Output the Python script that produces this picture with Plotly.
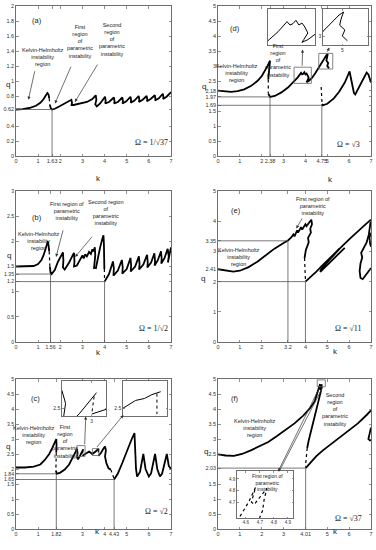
import plotly.graph_objects as go

# ------------------------------------------------------------------ data
# Every curve is a list of (k, q) points.

# (a)  Omega = 1/sqrt(37)
A_KH = [(0, 0.62), (0.3, 0.625), (0.6, 0.64), (0.9, 0.67), (1.1, 0.71), (1.25, 0.76),
        (1.35, 0.81), (1.42, 0.84), (1.47, 0.82), (1.5, 0.77)]
A_DOT = [(1.5, 0.77), (1.53, 0.68)]
A_B2 = [(1.53, 0.68), (1.57, 0.64), (1.63, 0.62), (1.75, 0.63), (1.95, 0.66), (2.2, 0.70),
        (2.4, 0.73), (2.5, 0.75), (2.53, 0.71), (2.51, 0.68), (2.6, 0.68), (2.9, 0.70),
        (3.2, 0.72), (3.45, 0.76), (3.6, 0.81), (3.63, 0.75), (3.58, 0.69), (3.65, 0.66),
        (3.8, 0.70), (3.95, 0.76), (4.02, 0.79), (4.05, 0.74), (4.03, 0.70),
        (4.2, 0.72), (4.35, 0.76), (4.42, 0.78), (4.45, 0.73), (4.43, 0.70),
        (4.6, 0.72), (4.72, 0.76), (4.8, 0.78), (4.83, 0.73), (4.81, 0.70),
        (4.98, 0.73), (5.1, 0.77), (5.17, 0.79), (5.2, 0.74), (5.18, 0.71),
        (5.35, 0.74), (5.47, 0.78), (5.54, 0.80), (5.57, 0.75), (5.55, 0.72),
        (5.72, 0.75), (5.84, 0.78), (5.9, 0.80), (5.93, 0.75), (5.91, 0.73),
        (6.08, 0.76), (6.2, 0.79), (6.27, 0.81), (6.3, 0.76), (6.28, 0.74),
        (6.45, 0.77), (6.56, 0.81), (6.63, 0.83), (6.66, 0.78), (6.64, 0.76),
        (6.8, 0.79), (6.92, 0.83), (7.0, 0.85)]
A_REF = [(1.63, 0.62)]

# (d)  Omega = sqrt(3)
D_KH = [(0, 2.18), (0.3, 2.16), (0.6, 2.14), (0.9, 2.16), (1.2, 2.22), (1.5, 2.33),
        (1.8, 2.5), (2.0, 2.66), (2.15, 2.84), (2.28, 3.02), (2.38, 3.18), (2.36, 2.95),
        (2.32, 2.7), (2.3, 2.55)]
D_DOT1 = [(2.3, 2.55), (2.3, 2.08)]
D_B2 = [(2.3, 2.08), (2.38, 1.97), (2.6, 2.0), (2.9, 2.12), (3.2, 2.28), (3.5, 2.5),
        (3.65, 2.62), (3.8, 2.77), (3.85, 2.72), (3.9, 2.74), (3.95, 2.79), (4.0, 2.72),
        (4.05, 2.75), (4.1, 2.69), (4.15, 2.6), (4.08, 2.5), (4.05, 2.46), (4.15, 2.5),
        (4.3, 2.6), (4.45, 2.76), (4.6, 2.95), (4.72, 3.1), (4.85, 3.25), (4.95, 3.35),
        (5.02, 3.4), (4.98, 3.28), (4.96, 3.18), (5.04, 3.1), (5.0, 3.0), (5.08, 2.92)]
D_DOT2 = [(4.72, 2.3), (4.76, 1.74)]
D_B3 = [(4.76, 1.74), (4.79, 1.69), (5.0, 1.74), (5.3, 1.92), (5.55, 2.15), (5.8, 2.45),
        (5.95, 2.7), (6.02, 2.82), (6.08, 2.6), (6.15, 2.3), (6.22, 2.1), (6.28, 2.05),
        (6.45, 2.3), (6.65, 2.6), (6.8, 2.78), (6.88, 2.72), (6.95, 2.55), (7.0, 2.45)]
D_REF = [(2.38, 1.97), (4.75, 1.69)]

# (b)  Omega = 1/sqrt(2)
B_KH = [(0, 1.5), (0.4, 1.5), (0.8, 1.51), (1.0, 1.55), (1.15, 1.63), (1.25, 1.73),
        (1.33, 1.85), (1.4, 1.97), (1.44, 2.0), (1.47, 1.92), (1.5, 1.8)]
B_DOT1 = [(1.5, 1.8), (1.53, 1.5)]
B_B2 = [(1.53, 1.5), (1.56, 1.38), (1.61, 1.35), (1.75, 1.43), (1.9, 1.6), (2.05, 1.74),
        (2.12, 1.78), (2.14, 1.62), (2.12, 1.48), (2.2, 1.44), (2.4, 1.58), (2.58, 1.74),
        (2.62, 1.77), (2.64, 1.6), (2.62, 1.5), (2.75, 1.52), (2.92, 1.65), (3.0, 1.72),
        (3.06, 1.66), (3.12, 1.74), (3.2, 1.7), (3.3, 1.79), (3.38, 1.75), (3.45, 1.84),
        (3.5, 1.8), (3.56, 1.88), (3.58, 1.72), (3.54, 1.55), (3.52, 1.45)]
B_SPIKE = [(3.6, 1.45), (3.7, 1.68), (3.8, 1.88), (3.9, 2.05), (3.95, 2.12), (3.97, 1.95),
           (3.98, 1.7), (3.99, 1.45)]
B_DOT2 = [(3.99, 1.45), (4.0, 1.22)]
B_B3 = [(4.0, 1.2), (4.2, 1.35), (4.38, 1.6), (4.42, 1.46), (4.4, 1.32), (4.6, 1.42),
        (4.78, 1.63), (4.82, 1.48), (4.8, 1.36), (5.0, 1.45), (5.17, 1.67), (5.2, 1.52),
        (5.18, 1.4), (5.38, 1.5), (5.55, 1.7), (5.58, 1.55), (5.56, 1.44), (5.75, 1.54),
        (5.92, 1.73), (5.95, 1.58), (5.93, 1.48), (6.1, 1.58), (6.25, 1.76), (6.28, 1.6),
        (6.26, 1.52), (6.4, 1.62), (6.55, 1.8), (6.58, 1.64), (6.56, 1.56), (6.7, 1.66),
        (6.85, 1.85), (6.9, 1.7), (6.86, 1.58), (6.95, 1.75), (7.0, 1.88)]
B_REF = [(1.56, 1.35), (4.0, 1.2)]

# (e)  Omega = sqrt(11)
E_KH = [(0, 2.41), (0.3, 2.37), (0.7, 2.33), (1.0, 2.36), (1.4, 2.48), (1.8, 2.66),
        (2.2, 2.88), (2.6, 3.1), (3.0, 3.28), (3.2, 3.36), (3.35, 3.46), (3.45, 3.56),
        (3.5, 3.5), (3.55, 3.6), (3.62, 3.7), (3.66, 3.62), (3.72, 3.68), (3.8, 3.8),
        (3.85, 3.72), (3.92, 3.8), (4.0, 3.9), (4.05, 3.84), (4.15, 3.95), (4.27, 4.05),
        (4.3, 3.9), (4.22, 3.75), (4.25, 3.62), (4.12, 3.45), (4.15, 3.3), (4.02, 3.05),
        (3.96, 2.78)]
E_DOT = [(3.96, 2.78), (4.0, 2.05)]
E_B3 = [(4.0, 2.0), (4.2, 2.12), (4.5, 2.33), (4.8, 2.55), (5.2, 2.85), (5.6, 3.12),
        (6.0, 3.4), (6.4, 3.68), (6.8, 3.93), (7.0, 4.05)]
E_S1 = [(5.8, 3.12), (5.3, 2.76), (4.85, 2.44), (4.68, 2.32), (4.72, 2.42), (5.1, 2.72),
        (5.55, 3.08)]
E_S2 = [(7.0, 2.45), (6.8, 2.25), (6.62, 2.08), (6.52, 2.12), (6.48, 2.35), (6.52, 2.6),
        (6.6, 2.8), (6.55, 2.95), (6.65, 3.08), (6.8, 3.3), (6.9, 3.55), (6.95, 3.8),
        (6.98, 3.98)]
E_S3 = [(7.0, 3.62), (6.93, 3.45), (6.96, 3.25), (7.0, 3.15)]
E_REF = [(3.2, 3.35), (4.0, 2.0)]

# (c)  Omega = sqrt(2)
C_KH = [(0, 2.05), (0.4, 2.05), (0.8, 2.08), (1.1, 2.15), (1.3, 2.3), (1.5, 2.5),
        (1.65, 2.72), (1.75, 2.9), (1.82, 3.0), (1.83, 2.8), (1.82, 2.55)]
C_DOT1 = [(1.82, 2.55), (1.8, 1.95)]
C_B2 = [(1.8, 1.95), (1.84, 1.84), (2.0, 1.88), (2.2, 1.98), (2.4, 2.15), (2.55, 2.35),
        (2.68, 2.55), (2.75, 2.68), (2.78, 2.55), (2.76, 2.38), (2.8, 2.32), (2.9, 2.45),
        (3.0, 2.6), (3.04, 2.66)]
C_DOT2 = [(3.02, 2.62), (3.0, 2.44)]
C_B2B = [(3.0, 2.44), (3.15, 2.5), (3.3, 2.58), (3.45, 2.5), (3.55, 2.58), (3.62, 2.6),
         (3.68, 2.64), (3.75, 2.67)]
C_DOT3 = [(3.72, 2.65), (3.72, 2.44)]
C_B2C = [(3.72, 2.44), (3.85, 2.55), (3.95, 2.68), (4.02, 2.75), (4.06, 2.62), (4.02, 2.42),
         (4.08, 2.2), (4.18, 2.02), (4.28, 1.98)]
C_DOT4 = [(4.28, 1.98), (4.43, 1.68)]
C_B3 = [(4.43, 1.65), (4.6, 1.85), (4.8, 2.2), (5.0, 2.6), (5.2, 2.95), (5.35, 3.2),
        (5.36, 2.9), (5.38, 2.4), (5.42, 2.0), (5.47, 1.75), (5.6, 1.9), (5.75, 2.5),
        (5.78, 2.3), (5.85, 2.0), (6.0, 1.75), (6.1, 1.85), (6.28, 2.5), (6.32, 2.3),
        (6.38, 2.0), (6.5, 1.75), (6.6, 1.85), (6.81, 2.5), (6.85, 2.3), (6.9, 2.1),
        (7.0, 2.0)]
C_REF = [(1.82, 1.84), (4.43, 1.65)]

# (f)  Omega = sqrt(37)
F_KH = [(0, 2.49), (0.35, 2.45), (0.73, 2.44), (1.1, 2.5), (1.5, 2.62), (1.9, 2.75),
        (2.3, 2.9), (2.7, 3.1), (3.1, 3.3), (3.5, 3.52), (3.9, 3.78), (4.2, 4.02),
        (4.42, 4.25), (4.56, 4.58), (4.62, 4.7), (4.67, 4.83), (4.65, 4.74), (4.64, 4.7),
        (4.66, 4.68), (4.71, 4.76), (4.75, 4.82), (4.73, 4.72), (4.72, 4.63)]
F_DESC = [(4.72, 4.63), (4.62, 4.35), (4.5, 4.0), (4.38, 3.62), (4.25, 3.25), (4.15, 2.95),
          (4.08, 2.7)]
F_DOT = [(4.08, 2.7), (4.0, 2.08)]
F_B3 = [(4.01, 2.03), (4.2, 2.2), (4.5, 2.43), (4.8, 2.62), (5.2, 2.85), (5.6, 3.06),
        (6.0, 3.28), (6.4, 3.52), (6.8, 3.8), (7.0, 3.95)]
F_S = [(7.0, 3.38), (6.93, 3.15), (6.88, 3.0), (6.95, 2.95), (7.0, 2.97)]
F_REF = [(4.01, 2.03)]

# tick values
A_XT = [0, 1, 1.63, 2, 3, 4, 5, 6, 7]
A_YT = [0, 0.2, 0.4, 0.62, 0.8, 1, 1.2, 1.4, 1.6, 1.8, 2]
D_XT = [0, 1, 2, 2.38, 3, 4, 4.75, 5, 6, 7]
D_YT = [0, 0.5, 1, 1.5, 1.69, 1.97, 2.18, 2.5, 3, 3.5, 4, 4.5, 5]
B_XT = [0, 1, 1.56, 2, 3, 4, 5, 6, 7]
B_YT = [0, 0.5, 1, 1.2, 1.35, 1.5, 2, 2.5, 3]
E_XT = [0, 1, 2, 3.2, 4, 5, 6, 7]
E_YT = [0, 1, 2, 2.41, 3, 3.35, 4, 5]
C_XT = [0, 1, 1.82, 3, 4, 4.43, 5, 6, 7]
C_YT = [0, 0.5, 1, 1.5, 1.65, 1.84, 2, 2.5, 3, 3.5, 4, 4.5, 5]
F_XT = [0, 1, 2, 3, 4.01, 5, 6, 7]
F_YT = [0, 0.5, 1, 1.5, 2.03, 2.5, 3, 3.5, 4, 4.5, 5]

# ------------------------------------------------------------------ layout helpers
W, H = 376, 550
SANS = "Liberation Sans, Arial, sans-serif"
NARROW = "Liberation Sans Narrow, Arial Narrow, Liberation Sans, sans-serif"
SERIF = "Liberation Serif, Times New Roman, serif"
AXC = "#4a4a4a"

fig = go.Figure()
layout = dict(width=W, height=H, margin=dict(l=0, r=0, t=0, b=0), autosize=False,
              paper_bgcolor="white", plot_bgcolor="white", showlegend=False)


def dom_x(a, b):
    return [a / W, b / W]


def dom_y(top, bottom):
    return [1 - bottom / H, 1 - top / H]


def add_axes(i, xd, yd, xr, yr, xt, yt, fs=5.5, tl=2.5):
    sx = "" if i == 1 else str(i)
    common = dict(showgrid=False, zeroline=False, showline=True, linecolor=AXC,
                  linewidth=0.8, mirror="ticks", ticks="inside", ticklen=tl,
                  tickwidth=0.6, tickcolor=AXC, tickangle=0, automargin=False,
                  tickfont=dict(family=SANS, size=fs, color="#333"))
    layout["xaxis" + sx] = dict(domain=xd, range=xr, anchor="y" + sx, tickmode="array",
                                tickvals=xt, ticktext=[f"{v:g}" for v in xt], **common)
    layout["yaxis" + sx] = dict(domain=yd, range=yr, anchor="x" + sx, tickmode="array",
                                tickvals=yt, ticktext=[f"{v:g}" for v in yt], **common)


def line(pts, i, width=1.8, dash="solid", color="black"):
    sx = "" if i == 1 else str(i)
    fig.add_trace(go.Scatter(x=[p[0] for p in pts], y=[p[1] for p in pts], mode="lines",
                             line=dict(color=color, width=width, dash=dash),
                             xaxis="x" + sx, yaxis="y" + sx, hoverinfo="skip"))


shapes = []
annos = []


def ref_lines(refs, i):
    sx = "" if i == 1 else str(i)
    for k, q in refs:
        shapes.append(dict(type="line", xref="x" + sx, yref="y" + sx, x0=0, x1=k, y0=q, y1=q,
                           line=dict(color="#555", width=0.8)))
        shapes.append(dict(type="line", xref="x" + sx, yref="y" + sx, x0=k, x1=k, y0=0, y1=q,
                           line=dict(color="#555", width=0.8)))


def box(i, x0, x1, y0, y1):
    sx = "" if i == 1 else str(i)
    shapes.append(dict(type="rect", xref="x" + sx, yref="y" + sx, x0=x0, x1=x1, y0=y0, y1=y1,
                       line=dict(color="#666", width=0.8)))


def text(i, x, y, s, size=5.5, family=NARROW, color="#222"):
    sx = "" if i == 1 else str(i)
    annos.append(dict(xref="x" + sx, yref="y" + sx, x=x, y=y, text=s, showarrow=False,
                      font=dict(family=family, size=size, color=color), align="center"))


def arrow(i, tail, head, headstyle=2):
    sx = "" if i == 1 else str(i)
    annos.append(dict(xref="x" + sx, yref="y" + sx, axref="x" + sx, ayref="y" + sx,
                      x=head[0], y=head[1], ax=tail[0], ay=tail[1], text="", showarrow=True,
                      arrowhead=headstyle, arrowsize=0.9, arrowwidth=0.7, arrowcolor="#333",
                      standoff=0, startstandoff=0))


def paper_text(px, py, s, size=8):
    annos.append(dict(xref="paper", yref="paper", x=px / W, y=1 - py / H, text=s,
                      showarrow=False, font=dict(family=SANS, size=size, color="#222")))


# ------------------------------------------------------------------ axes
add_axes(1, dom_x(16, 171), dom_y(6, 156), [0, 7], [0, 2], A_XT, A_YT)
add_axes(2, dom_x(218, 371), dom_y(6, 156), [0, 7], [0, 5], D_XT, D_YT)
add_axes(3, dom_x(16, 171), dom_y(191, 342), [0, 7], [0, 3], B_XT, B_YT, fs=5.2)
add_axes(4, dom_x(218, 371), dom_y(191, 342), [0, 7], [0, 5], E_XT, E_YT)
add_axes(5, dom_x(16, 171), dom_y(379, 529), [0, 7], [0, 5], C_XT, C_YT, fs=5.2)
add_axes(6, dom_x(218, 371), dom_y(379, 529), [0, 7], [0, 5], F_XT, F_YT)
# insets
add_axes(7, dom_x(62, 106), dom_y(381, 416), [2.75, 3.12], [2.42, 2.78], [3], [2.5], fs=5, tl=1.5)
add_axes(8, dom_x(123, 167), dom_y(381, 416), [3.45, 3.8], [2.42, 2.78], [], [2.5], fs=5, tl=1.5)
add_axes(9, dom_x(268, 315), dom_y(9, 45), [3.48, 4.27], [2.42, 2.96], [], [], fs=5, tl=1.5)
add_axes(10, dom_x(323, 368), dom_y(9, 45), [4.7, 5.4], [2.85, 3.45], [5], [3], fs=5, tl=1.5)
add_axes(11, dom_x(237, 293), dom_y(471, 518), [4.537, 4.936], [4.563, 4.969],
         [4.6, 4.7, 4.8, 4.9], [4.7, 4.8, 4.9], fs=4.5, tl=1.5)

# ------------------------------------------------------------------ curves
for pts in (A_KH, A_B2):
    line(pts, 1)
line(A_DOT, 1, 1.2, "dot")
ref_lines(A_REF, 1)

for pts in (D_KH, D_B2, D_B3):
    line(pts, 2)
line(D_DOT1, 2, 1.2, "dot")
line(D_DOT2, 2, 1.2, "dot")
ref_lines(D_REF, 2)
box(2, 3.48, 4.27, 2.42, 2.96)
box(2, 4.61, 5.25, 2.9, 3.42)
line(D_B2, 9, 1.0)
line(D_B2, 10, 1.0)

for pts in (B_KH, B_B2, B_SPIKE, B_B3):
    line(pts, 3)
line(B_DOT1, 3, 1.2, "dot")
line(B_DOT2, 3, 1.2, "dot")
ref_lines(B_REF, 3)

for pts in (E_KH, E_B3, E_S1, E_S2, E_S3):
    line(pts, 4)
line(E_DOT, 4, 1.2, "dot")
ref_lines(E_REF, 4)

for pts in (C_KH, C_B2, C_B2B, C_B2C, C_B3):
    line(pts, 5)
for pts in (C_DOT1, C_DOT2, C_DOT3, C_DOT4):
    line(pts, 5, 1.2, "dot")
ref_lines(C_REF, 5)
box(5, 2.75, 3.12, 2.42, 2.78)
box(5, 3.45, 3.75, 2.45, 2.68)
for pts in (C_B2, C_B2B):
    line(pts, 7, 1.0)
    line(pts, 8, 1.0)
for pts in (C_DOT2, C_DOT3):
    line(pts, 7, 1.0, "dot")
    line(pts, 8, 1.0, "dot")

for pts in (F_KH, F_DESC, F_B3, F_S):
    line(pts, 6)
line(F_DOT, 6, 1.2, "dot")
ref_lines(F_REF, 6)
box(6, 4.54, 4.91, 4.74, 4.97)
line(F_KH, 11, 1.2, "dot")
line(F_DESC, 11, 1.2, "dot")

# ------------------------------------------------------------------ annotations
KH = "Kelvin-Helmholtz<br>instability<br>region"
FIRST5 = "First<br>region<br>of<br>parametric<br>instability"
SECOND5 = "Second<br>region<br>of<br>parametric<br>instability"
FIRST3 = "First region of<br>parametric<br>instability"

# (a)
text(1, 0.93, 1.80, "(a)", size=7.5, family=SANS)
text(1, 1.2, 1.32, KH)
text(1, 2.89, 1.53, FIRST5)
text(1, 4.32, 1.55, SECOND5)
arrow(1, (0.86, 1.15), (0.56, 0.75))
arrow(1, (2.51, 1.21), (1.76, 0.70))
arrow(1, (3.72, 1.24), (2.66, 0.72))
text(1, 6.13, 0.18, "Ω = 1/√37", size=8, family=SERIF)

# (d)
text(2, 0.76, 4.26, "(d)", size=7.5, family=SANS)
text(2, 0.88, 2.75, KH)
text(2, 2.75, 3.17, FIRST5)
arrow(2, (3.85, 2.96), (3.87, 3.55))
arrow(2, (4.95, 3.42), (5.1, 3.62))
text(2, 5.95, 0.39, "Ω = √3", size=8, family=SERIF)

# (b)
text(3, 0.93, 2.48, "(b)", size=7.5, family=SANS)
text(3, 1.05, 2.0, KH)
text(3, 2.29, 2.6, FIRST3)
text(3, 4.02, 2.58, "Second region<br>of<br>parametric<br>instability")
arrow(3, (2.14, 2.25), (1.81, 1.69))
arrow(3, (3.49, 2.12), (2.67, 1.69))
text(3, 6.2, 0.27, "Ω = 1/√2", size=8, family=SERIF)

# (e)
text(4, 0.84, 4.36, "(e)", size=7.5, family=SANS)
text(4, 0.95, 2.82, KH)
text(4, 4.35, 4.5, FIRST3)
arrow(4, (3.89, 4.14), (3.58, 3.76))
text(4, 5.95, 0.44, "Ω = √11", size=8, family=SERIF)

# (c)
text(5, 0.86, 4.36, "(c)", size=7.5, family=SANS)
text(5, 0.8, 3.13, KH)
text(5, 2.21, 2.93, FIRST5)
arrow(5, (3.1, 2.78), (3.15, 3.75))
arrow(5, (3.6, 2.68), (4.85, 3.8))
text(5, 6.35, 0.58, "Ω = √2", size=8, family=SERIF)

# (f)
text(6, 0.76, 4.36, "(f)", size=7.5, family=SANS)
text(6, 1.68, 3.36, KH)
text(6, 5.34, 3.97, SECOND5)
text(6, 2.25, 1.55, FIRST3, size=5)
arrow(6, (4.66, 4.74), (2.75, 1.92))
shapes.append(dict(type="line", xref="x6", yref="y6", x0=4.8, y0=4.74, x1=2.8, y1=1.92,
                   line=dict(color="#333", width=0.7)))
text(6, 5.95, 0.36, "Ω = √37", size=8, family=SERIF)

# axis titles
for px, py in ((4, 78), (5, 255), (4, 453)):
    paper_text(px, py, "q")
for px, py in ((204, 80), (203, 278), (206, 458)):
    paper_text(px, py, "q")
for px, py in ((94, 172), (335, 173), (94, 352), (340, 351), (93, 538), (340, 538)):
    paper_text(px, py, "k")

layout["shapes"] = shapes
layout["annotations"] = annos
fig.update_layout(**layout)
fig.write_html("out.html",
               config={"displayModeBar": False, "staticPlot": True},
               post_script="document.body.style.margin='0';"
                           "document.body.style.padding='0';"
                           "document.body.style.overflow='hidden';")
